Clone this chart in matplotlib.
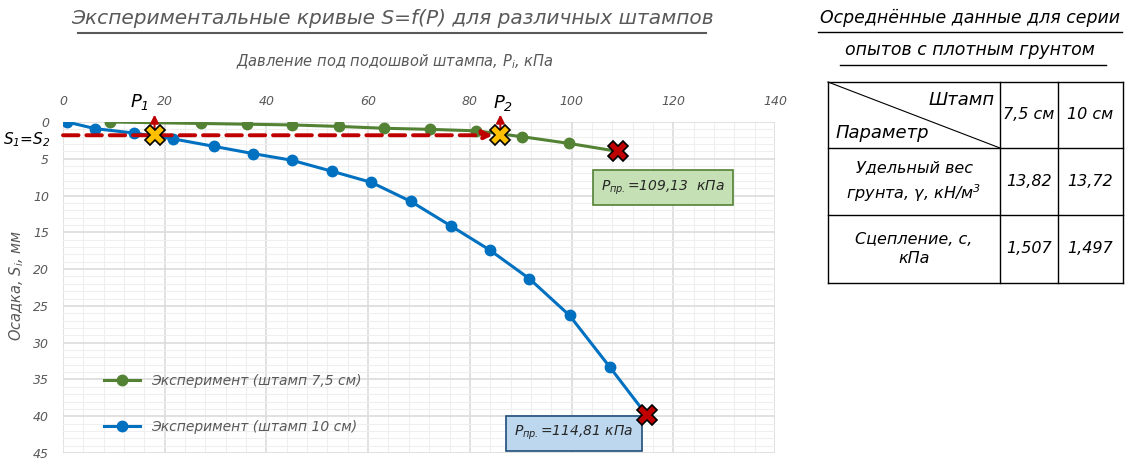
import numpy as np
import matplotlib.pyplot as plt
from matplotlib.lines import Line2D

plt.rcParams['font.family'] = ['DejaVu Sans']
plt.rcParams['font.style'] = 'italic'
plt.rcParams['mathtext.fontset'] = 'custom'
plt.rcParams['mathtext.rm'] = 'DejaVu Sans:italic'
plt.rcParams['mathtext.it'] = 'DejaVu Sans:italic'

# data
p_75 = [9.3, 27.2, 36.1, 45.0, 54.2, 63.1, 72.2, 81.3, 90.3, 99.4]
s_75 = [0.0, 0.2, 0.3, 0.4, 0.6, 0.85, 1.0, 1.2, 2.0, 2.9]
p_10 = [0.8, 6.3, 13.9, 21.7, 29.6, 37.4, 45.0, 52.9, 60.6, 68.4, 76.2, 83.9, 91.7, 99.6, 107.5]
s_10 = [0.0, 0.9, 1.5, 2.3, 3.3, 4.3, 5.2, 6.7, 8.2, 10.8, 14.1, 17.4, 21.3, 26.3, 33.3]
p_lim = [109.13, 114.81]
s_lim = [4.0, 39.9]
p1, p2, s12 = 18.0, 86.0, 1.8

tbl_cols = ["7,5 см", "10 см"]
gamma = ["13,82", "13,72"]
coh = ["1,507", "1,497"]

green = "#548235"
blue = "#0070c0"
red = "#c00000"
grey = "#595959"

fig = plt.figure(figsize=(11.35, 4.59), dpi=100)
ax = fig.add_axes([63/1135, 1-453/459, (775-63)/1135, (453-122)/459])

ax.set_xlim(0, 140)
ax.set_ylim(45, 0)
ax.xaxis.tick_top()
ax.set_xticks(np.arange(0, 141, 20))
ax.set_yticks(np.arange(0, 46, 5))
ax.set_xticks(np.arange(0, 141, 4), minor=True)
ax.set_yticks(np.arange(0, 46, 1), minor=True)
ax.grid(True, which="major", color="#dcdcdc", lw=1.2)
ax.grid(True, which="minor", color="#efefef", lw=0.8)
ax.set_axisbelow(True)
ax.tick_params(which="both", length=0, labelsize=9, labelcolor=grey, pad=10)
for lbl in ax.get_xticklabels() + ax.get_yticklabels():
    lbl.set_style("italic")
for sp in ax.spines.values():
    sp.set_visible(False)

ax.plot(p_75 + [p_lim[0]], s_75 + [s_lim[0]], color=green, lw=2.2, marker="o", ms=7.5,
        markevery=list(range(len(p_75))), label="Эксперимент (штамп 7,5 см)", zorder=3)
ax.plot(p_10 + [p_lim[1]], s_10 + [s_lim[1]], color=blue, lw=2.2, marker="o", ms=7.5,
        markevery=list(range(len(p_10))), label="Эксперимент (штамп 10 см)", zorder=3)

# limit points
ax.plot(p_lim, s_lim, ls="none", marker="X", ms=15, mfc=red, mec="black", mew=1.2, zorder=5)

# S1=S2 dashed line with arrow
ax.annotate("", xy=(p2 - 1.5, s12), xytext=(0, s12),
            arrowprops=dict(arrowstyle="-|>", color=red, lw=2.8, ls=(0, (4, 2)),
                            mutation_scale=14, shrinkA=0, shrinkB=0), zorder=4)
for p in (p1, p2):
    ax.annotate("", xy=(p, -1.0), xytext=(p, s12),
                arrowprops=dict(arrowstyle="-|>", color=red, lw=1.5, mutation_scale=12,
                                shrinkA=0, shrinkB=0), annotation_clip=False, zorder=4)
ax.plot([p1, p2], [s12, s12], ls="none", marker="X", ms=14, mfc="#ffc000", mec="black",
        mew=1.2, zorder=6, clip_on=False)

ax.text(p1 - 1.0, -2.7, "$P_1$", fontsize=13, color="black", ha="right", va="center")
ax.text(p2 + 0.5, -2.6, "$P_2$", fontsize=13, color="black", ha="center", va="center")
fig.text(3/1135, 1-140/459, "$S_1$=$S_2$", fontsize=11, color="black", ha="left",
         va="center")

ax.text(118, 8.9, "$P_{пр.}$=109,13  кПа", fontsize=10, color="#262626", ha="center",
        va="center", bbox=dict(boxstyle="square,pad=0.6", fc="#c5e0b4", ec=green, lw=1.2))
ax.text(100.5, 42.3, "$P_{пр.}$=114,81 кПа", fontsize=10, color="#262626", ha="center",
        va="center", bbox=dict(boxstyle="square,pad=0.6", fc="#bdd7ee", ec="#1f4e79", lw=1.2))

ax.legend(loc="lower left", bbox_to_anchor=(0.04, 0.02), frameon=False, fontsize=10,
          labelspacing=2.3, handlelength=2.6, labelcolor=grey)

# titles
fig.text(392/1135, 1-19/459, "Экспериментальные кривые S=f(P) для различных штампов",
         fontsize=14.5, color=grey, ha="center", va="center")
fig.add_artist(Line2D([78/1135, 706/1135], [1-33/459, 1-33/459], color=grey, lw=1.5))
fig.text(395/1135, 1-62/459, "Давление под подошвой штампа, $P_i$, кПа", fontsize=10.5,
         color=grey, ha="center", va="center")
fig.text(17/1135, 1-285/459, "Осадка, $S_i$, мм", fontsize=10.5, color=grey, rotation=90,
         ha="center", va="center")

# right table
fig.text(970/1135, 1-18/459, "Осреднённые данные для серии", fontsize=12.5, ha="center", va="center")
fig.add_artist(Line2D([818/1135, 1122/1135], [1-32/459, 1-32/459], color="black", lw=1))
fig.text(970/1135, 1-50/459, "опытов с плотным грунтом", fontsize=12.5, ha="center", va="center")
fig.add_artist(Line2D([840/1135, 1106/1135], [1-65/459, 1-65/459], color="black", lw=1))

xs = [828, 1000, 1058, 1123]
ys = [82, 148, 215, 283]
for x in xs:
    fig.add_artist(Line2D([x/1135, x/1135], [1-ys[0]/459, 1-ys[-1]/459], color="black", lw=1))
for y in ys:
    fig.add_artist(Line2D([xs[0]/1135, xs[-1]/1135], [1-y/459, 1-y/459], color="black", lw=1))
fig.add_artist(Line2D([xs[0]/1135, xs[1]/1135], [1-ys[0]/459, 1-ys[1]/459], color="black", lw=0.8))

fig.text(995/1135, 1-100/459, "Штамп", fontsize=13, ha="right", va="center")
fig.text(835/1135, 1-133/459, "Параметр", fontsize=13, ha="left", va="center")
fig.text(914/1135, 1-182/459, "Удельный вес\nгрунта, γ, кН/м$^3$", fontsize=11.5, ha="center",
         va="center", linespacing=1.4)
fig.text(914/1135, 1-249/459, "Сцепление, с,\nкПа", fontsize=11.5, ha="center", va="center",
         linespacing=1.4)
for i, cx in enumerate([1029, 1090]):
    fig.text(cx/1135, 1-115/459, tbl_cols[i], fontsize=11.5, ha="center", va="center")
    fig.text(cx/1135, 1-182/459, gamma[i], fontsize=11.5, ha="center", va="center")
    fig.text(cx/1135, 1-249/459, coh[i], fontsize=11.5, ha="center", va="center")

fig.savefig("out.png", dpi=100)
